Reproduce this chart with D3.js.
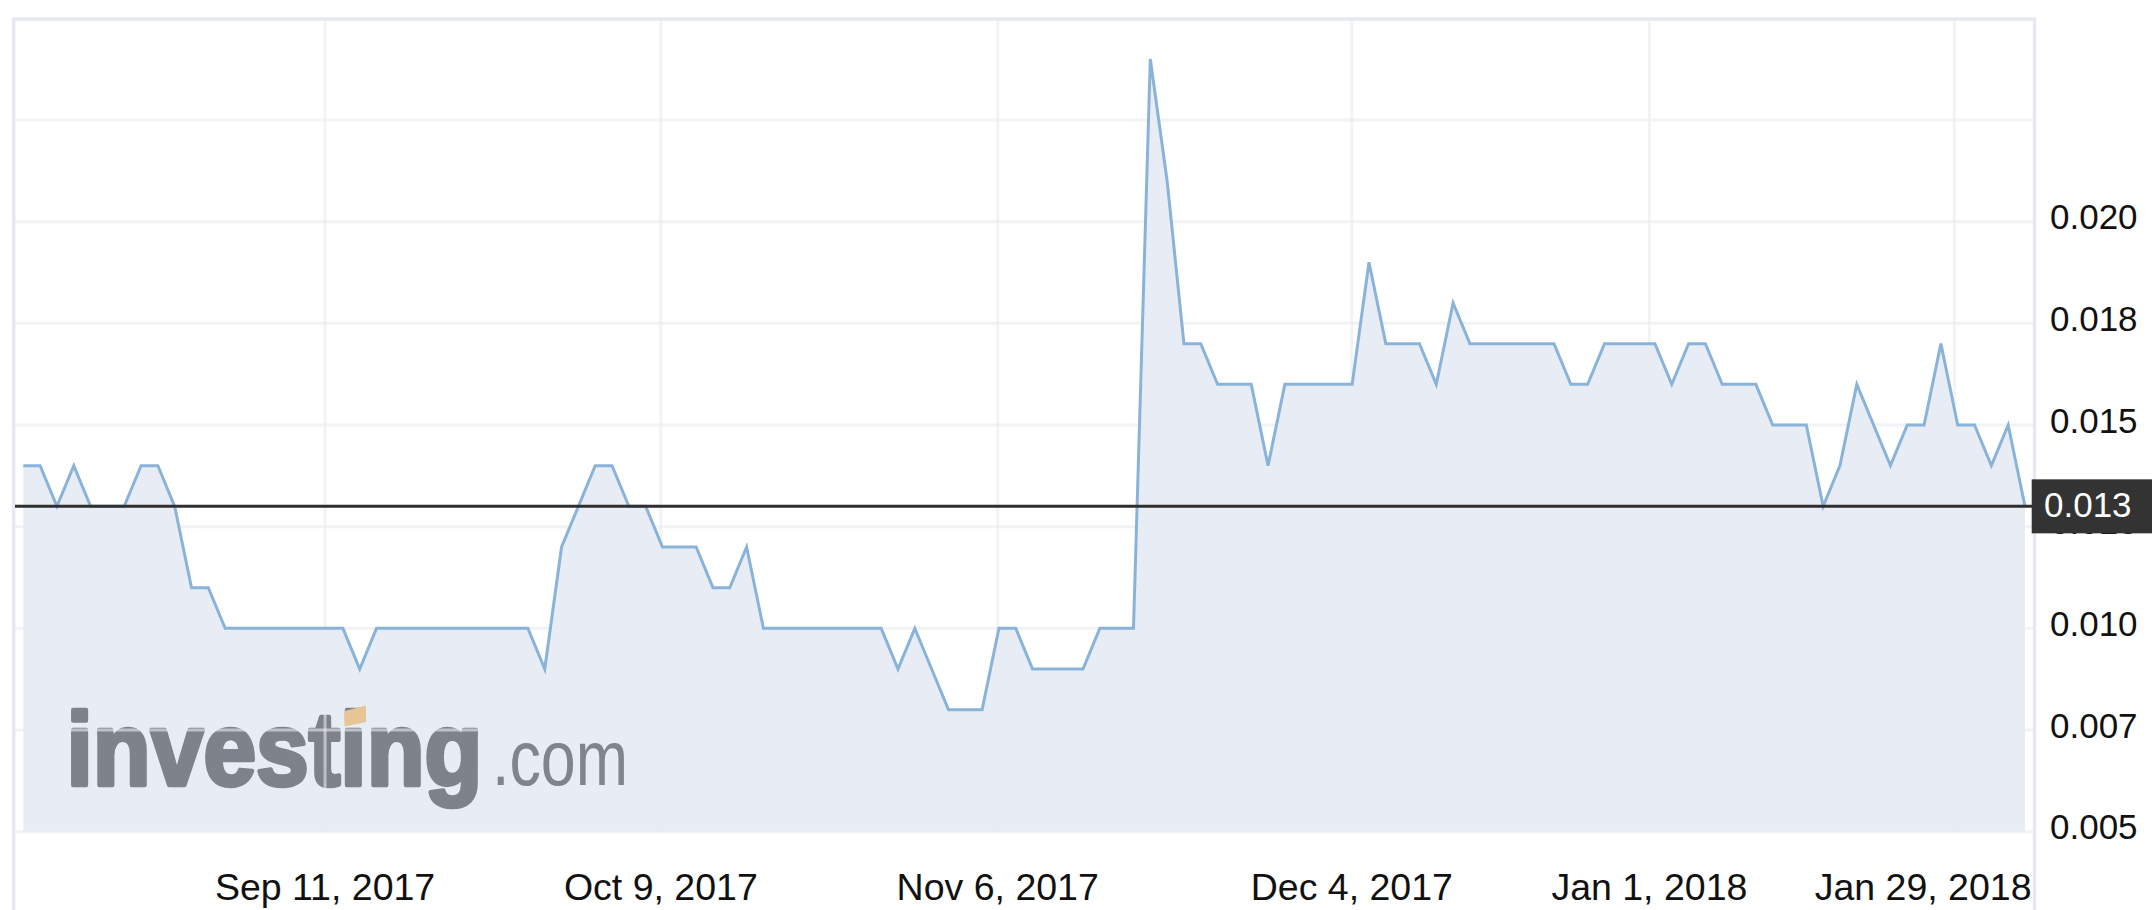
<!DOCTYPE html>
<html>
<head>
<meta charset="utf-8">
<script src="https://cdn.jsdelivr.net/npm/d3@7"></script>
<style>
  html, body { margin: 0; padding: 0; background: #ffffff; }
  svg { display: block; }
  text { font-family: "Liberation Sans", Arial, Helvetica, sans-serif; }
</style>
</head>
<body>
<svg id="chart" width="2152" height="910"></svg>
<script>
// ---- data (daily closes, trading-day index) ----
const prices = [
  0.014, 0.014, 0.013, 0.014, 0.013, 0.013, 0.013, 0.014, 0.014, 0.013,
  0.011, 0.011, 0.010, 0.010, 0.010, 0.010, 0.010, 0.010, 0.010, 0.010,
  0.009, 0.010, 0.010, 0.010, 0.010, 0.010, 0.010, 0.010, 0.010, 0.010,
  0.010, 0.009, 0.012, 0.013, 0.014, 0.014, 0.013, 0.013, 0.012, 0.012,
  0.012, 0.011, 0.011, 0.012, 0.010, 0.010, 0.010, 0.010, 0.010, 0.010,
  0.010, 0.010, 0.009, 0.010, 0.009, 0.008, 0.008, 0.008, 0.010, 0.010,
  0.009, 0.009, 0.009, 0.009, 0.010, 0.010, 0.010, 0.024, 0.021, 0.017,
  0.017, 0.016, 0.016, 0.016, 0.014, 0.016, 0.016, 0.016, 0.016, 0.016,
  0.019, 0.017, 0.017, 0.017, 0.016, 0.018, 0.017, 0.017, 0.017, 0.017,
  0.017, 0.017, 0.016, 0.016, 0.017, 0.017, 0.017, 0.017, 0.016, 0.017,
  0.017, 0.016, 0.016, 0.016, 0.015, 0.015, 0.015, 0.013, 0.014, 0.016,
  0.015, 0.014, 0.015, 0.015, 0.017, 0.015, 0.015, 0.014, 0.015, 0.013
];
const xTickIndex  = [17.94, 37.9, 57.93, 78.98, 96.67, 114.8];
const xTickLabels = ["Sep 11, 2017", "Oct 9, 2017", "Nov 6, 2017", "Dec 4, 2017", "Jan 1, 2018", "Jan 29, 2018"];
const yTickValues = [0.005, 0.0075, 0.010, 0.0125, 0.015, 0.0175, 0.020];
const yTickLabels = ["0.005", "0.007", "0.010", "0.013", "0.015", "0.018", "0.020"];
const yGridValues = [0.005, 0.0075, 0.010, 0.0125, 0.015, 0.0175, 0.020, 0.0225, 0.025];
const yDomain = [0.005, 0.025];
const lastPrice = 0.013;
const lastPriceLabel = "0.013";
const watermarkMain = "investing";
const watermarkSuffix = ".com";

// ---- layout ----
const W = 2152, H = 910;
const frame = { left: 13.7, right: 2034.5, top: 19 };
const svg = d3.select("#chart");

const x = d3.scaleLinear().domain([0, prices.length - 1]).range([23.3, 2025]);
const y = d3.scaleLinear().domain(yDomain).range([831.7, 18.3]);

// area fill
const area = d3.area()
  .x((d, i) => x(i))
  .y0(y(yDomain[0]))
  .y1(d => y(d));
svg.append("path")
  .datum(prices)
  .attr("d", area)
  .attr("fill", "#e8edf5");

// watermark: each word squeezed horizontally to the logo's width
function squeezedText(parent, str, left, base, width, attrs) {
  const g = parent.append("g");
  const t = g.append("text").attr("x", 0).attr("y", 0).text(str);
  Object.entries(attrs).forEach(([k, v]) => t.attr(k, v));
  const natural = t.node().getComputedTextLength();
  g.attr("transform", `translate(${left},${base}) scale(${width / natural},1)`);
  return g;
}
const wm = svg.append("g").attr("class", "watermark");
squeezedText(wm, watermarkMain, 66.5, 785, 416, {
  "font-size": 104, "font-weight": "bold", fill: "#7e828b",
  stroke: "#7e828b", "stroke-width": 4.5, "stroke-linejoin": "round"
});
squeezedText(wm, watermarkSuffix, 492, 785, 136, {
  "font-size": 77, fill: "#80848d"
});
wm.append("polygon")
  .attr("points", "344.5,711 366,705.5 366,722 344.5,726.5")
  .attr("fill", "#e7c594");

// gridlines
const grid = svg.append("g").attr("class", "grid")
  .attr("stroke", "#e9ebef").attr("stroke-opacity", 0.6).attr("stroke-width", 3);
grid.selectAll("line.h").data(yGridValues.slice(0, -1)).join("line")
  .attr("class", "h")
  .attr("x1", frame.left).attr("x2", frame.right)
  .attr("y1", d => y(d)).attr("y2", d => y(d));
grid.selectAll("line.v").data(xTickIndex).join("line")
  .attr("class", "v")
  .attr("x1", d => x(d)).attr("x2", d => x(d))
  .attr("y1", y(yDomain[1])).attr("y2", y(yDomain[0]));

// frame (top, left, right)
const fr = svg.append("g").attr("stroke", "#e6e8f0").attr("stroke-width", 3.3);
fr.append("line").attr("x1", frame.left - 1.6).attr("x2", frame.right + 1.6)
  .attr("y1", frame.top).attr("y2", frame.top);
fr.append("line").attr("x1", frame.left).attr("x2", frame.left)
  .attr("y1", frame.top).attr("y2", H);
fr.append("line").attr("x1", frame.right).attr("x2", frame.right)
  .attr("y1", frame.top).attr("y2", H);

// price line
const line = d3.line().x((d, i) => x(i)).y(d => y(d));
svg.append("path")
  .datum(prices)
  .attr("d", line)
  .attr("fill", "none")
  .attr("stroke", "#8ab3d9")
  .attr("stroke-width", 3)
  .attr("stroke-linejoin", "miter")
  .attr("stroke-miterlimit", 4);

// y-axis labels (the one under the price box peeks out below it, as in the reference)
svg.append("g").selectAll("text").data(yTickValues).join("text")
  .attr("x", 2050)
  .attr("y", d => y(d) + 7.6)
  .attr("font-size", 35)
  .attr("fill", "#111")
  .text((d, i) => yTickLabels[i]);

// x-axis labels
const xl = svg.append("g").selectAll("text").data(xTickIndex).join("text")
  .attr("x", d => x(d))
  .attr("y", 900)
  .attr("text-anchor", "middle")
  .attr("font-size", 37.5)
  .attr("fill", "#111")
  .text((d, i) => xTickLabels[i]);
xl.each(function () {
  const b = this.getBBox();
  const limit = frame.right - 3;
  if (b.x + b.width > limit) {
    d3.select(this).attr("x", +d3.select(this).attr("x") - (b.x + b.width - limit));
  }
});

// last-price line and label
const ly = y(lastPrice);
svg.append("line")
  .attr("x1", 15).attr("x2", 2032)
  .attr("y1", ly).attr("y2", ly)
  .attr("stroke", "#2f2f2f").attr("stroke-width", 3);
svg.append("rect")
  .attr("x", 2031.7).attr("y", ly - 27)
  .attr("width", W - 2031.7).attr("height", 54)
  .attr("fill", "#333333");
svg.append("text")
  .attr("x", 2044).attr("y", ly + 10.8)
  .attr("font-size", 35)
  .attr("fill", "#ffffff")
  .text(lastPriceLabel);
</script>
</body>
</html>
